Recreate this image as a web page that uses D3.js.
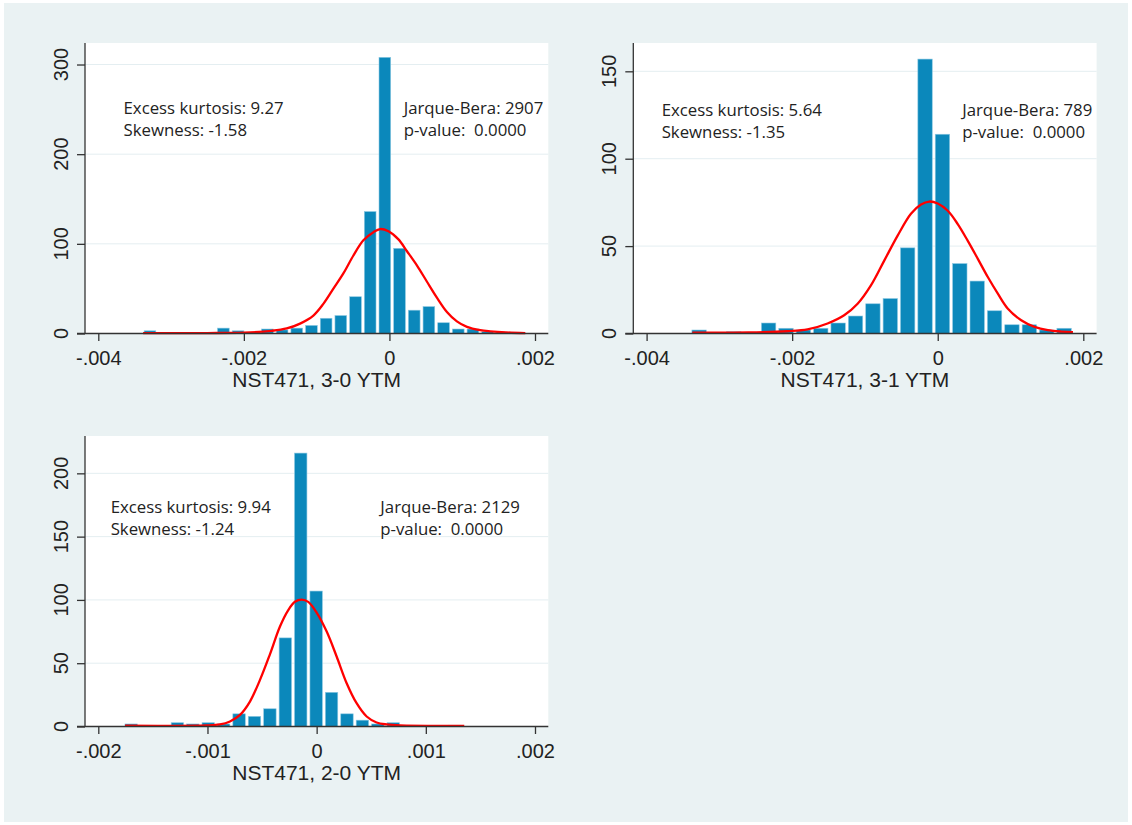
<!DOCTYPE html>
<html lang="en">
<head>
<meta charset="utf-8">
<title>NST471 YTM histograms</title>
<script src="https://cdn.jsdelivr.net/npm/d3@7"></script>
<style>
  body { margin: 0; background: #fff; }
  text { white-space: pre; }
</style>
</head>
<body>
<script>
// histogram counts left to right
var counts30 = [3,0,0,0,0,6,3,1,5,4,6,9,17,20,41,136,308,95,26,30,12,5,5,2,1,1];
var counts31 = [2,0,1,0,6,3,2,3,6,10,17,20,49,157,114,40,30,13,5,5,2,3];
var counts20 = [2,0,0,3,2,3,2,10,8,14,70,216,107,27,10,5,2,3,0,0,0,1];

// first bin edge, bin width
var bins30 = [-0.003391, 0.0002017];
var bins31 = [-0.003398, 0.0002388];
var bins20 = [-0.0017696, 0.0001412];

// normal density overlay (x in 1e-3 units)
var curveX30 = [-3.384,-2.5,-2.0,-1.618,-1.411,-1.228,-1.045,-0.908,-0.770,-0.633,-0.495,-0.358,-0.220,-0.128,-0.014,0.124,0.239,0.377,0.514,0.652,0.790,0.927,1.065,1.248,1.385,1.6,1.867];
var curveY30 = [0.5,0.5,1.0,3,5.6,11,20,33,50,67,87,104,113,116.5,114,105,92,76,58,40,24,13.5,7.4,3.7,2.4,1.2,0.5];
var curveX31 = [-3.372,-2.6,-2.065,-1.789,-1.514,-1.286,-1.101,-0.918,-0.735,-0.551,-0.368,-0.230,-0.116,0,0.138,0.275,0.413,0.551,0.688,0.826,0.964,1.147,1.330,1.514,1.697,1.858];
var curveY31 = [0.5,0.6,1.3,2.3,5.7,10.4,17,27.5,41.7,56,68.5,73.8,75.5,74.4,70.2,62.6,53,42.7,32.3,22.8,14.2,7.6,3.8,1.9,1.1,0.8];
var curveX20 = [-1.755,-1.007,-0.886,-0.794,-0.702,-0.611,-0.519,-0.428,-0.336,-0.260,-0.199,-0.137,-0.077,0,0.092,0.183,0.275,0.366,0.458,0.549,0.641,0.763,1.352];
var curveY20 = [0.6,0.8,1.6,4,9.2,19.7,36.8,57,79,92,98.5,100.3,98.5,90,75,55.3,34.2,18.4,7.9,3.2,1.6,0.8,0.5];

// axes
var xTicksWide = [-0.004, -0.002, 0, 0.002];
var xTicksNarrow = [-0.002, -0.001, 0, 0.001, 0.002];
var yTicks30 = [0, 100, 200, 300];
var yTicks31 = [0, 50, 100, 150];
var yTicks20 = [0, 50, 100, 150, 200];
var yMax = [324, 166.2, 229.5];
var titles = ["NST471, 3-0 YTM", "NST471, 3-1 YTM", "NST471, 2-0 YTM"];

// test statistics
var notesLeft30 = ["Excess kurtosis: 9.27", "Skewness: -1.58"];
var notesRight30 = ["Jarque-Bera: 2907", "p-value:  0.0000"];
var notesLeft31 = ["Excess kurtosis: 5.64", "Skewness: -1.35"];
var notesRight31 = ["Jarque-Bera: 789", "p-value:  0.0000"];
var notesLeft20 = ["Excess kurtosis: 9.94", "Skewness: -1.24"];
var notesRight20 = ["Jarque-Bera: 2129", "p-value:  0.0000"];
// where the notes sit, in data units [x left note, x right note, y]
var notesAt30 = [-0.003653, 0.000195, 245];
var notesAt31 = [-0.003793, 0.000336, 124.7];
var notesAt20 = [-0.001887, 0.000583, 168.7];

var plotW = 463.3, plotH = 290.5, xPad = 13.3;
var axisFont = "'Liberation Sans', Arial, sans-serif";
var noteFont = "'Open Sans', 'Noto Sans', sans-serif";

var svg = d3.select("body").append("svg")
	.attr("width", 1132)
	.attr("height", 825);

svg.append("rect")
	.attr("x", 4).attr("y", 3)
	.attr("width", 1124).attr("height", 819)
	.attr("fill", "#eaf2f3");

function fmtX(d) {
	if (d === 0) return "0";
	return (d < 0 ? "-" : "") + Math.abs(d).toFixed(3).replace(/^0/, "");
}

function drawPanel(p) {
	var g = svg.append("g").attr("transform", "translate(" + p.left + "," + p.top + ")");

	var x = d3.scaleLinear().domain(d3.extent(p.xTicks)).range([xPad, plotW - xPad]);
	var y = d3.scaleLinear().domain([0, p.yMax]).range([plotH, 0]);

	g.append("rect")
		.attr("width", plotW)
		.attr("height", plotH)
		.attr("fill", "#fff");

	//gridlines
	g.selectAll(".grid")
		.data(p.yTicks.filter(function(d) { return d > 0; }))
		.enter().append("line")
		.attr("x1", 0).attr("x2", plotW)
		.attr("y1", function(d) { return y(d); })
		.attr("y2", function(d) { return y(d); })
		.attr("stroke", "#e4eef1")
		.attr("stroke-width", 1);

	//bars
	var bins = p.counts.map(function(c, i) {
		return { x0: p.bins[0] + i * p.bins[1], x1: p.bins[0] + (i + 1) * p.bins[1], n: c };
	}).filter(function(d) { return d.n > 0; });

	g.selectAll(".bar")
		.data(bins)
		.enter().append("rect")
		.attr("x", function(d) { return x(d.x0) + 1.5; })
		.attr("width", function(d) { return x(d.x1) - x(d.x0) - 3; })
		.attr("y", function(d) { return y(d.n); })
		.attr("height", function(d) { return y(0) - y(d.n); })
		.attr("fill", "#0b88bb")
		.attr("stroke", "#8cc8e2")
		.attr("stroke-width", 0.6);

	//normal curve
	var pts = p.curveX.map(function(v, i) { return [v / 1000, p.curveY[i]]; });
	var line = d3.line()
		.x(function(d) { return x(d[0]); })
		.y(function(d) { return y(d[1]); })
		.curve(d3.curveCatmullRom.alpha(0.5));
	g.append("path")
		.datum(pts)
		.attr("d", line)
		.attr("fill", "none")
		.attr("stroke", "#ff0000")
		.attr("stroke-width", 2.3);

	//x axis
	var xAxis = d3.axisBottom(x)
		.tickValues(p.xTicks)
		.tickSize(7.5)
		.tickPadding(10)
		.tickFormat(fmtX);
	var xg = g.append("g")
		.attr("transform", "translate(0," + plotH + ")")
		.call(xAxis);
	xg.select(".domain").remove();
	xg.selectAll("line").attr("stroke", "#333").attr("stroke-width", 1.3);
	xg.selectAll("text")
		.attr("font-family", axisFont)
		.attr("font-size", 20)
		.attr("fill", "#222");

	//y axis
	var yAxis = d3.axisLeft(y)
		.tickValues(p.yTicks)
		.tickSize(8)
		.tickFormat("");
	var yg = g.append("g").call(yAxis);
	yg.select(".domain").remove();
	yg.selectAll("line").attr("stroke", "#333").attr("stroke-width", 1.3);

	g.selectAll(".ylab")
		.data(p.yTicks)
		.enter().append("text")
		.attr("transform", function(d) { return "translate(-17.5," + y(d) + ") rotate(-90)"; })
		.attr("text-anchor", "middle")
		.attr("font-family", axisFont)
		.attr("font-size", 20)
		.attr("fill", "#222")
		.text(function(d) { return d; });

	g.append("line")
		.attr("x1", 0).attr("x2", 0)
		.attr("y1", 0).attr("y2", plotH)
		.attr("stroke", "#333").attr("stroke-width", 1.3);
	g.append("line")
		.attr("x1", -8).attr("x2", plotW)
		.attr("y1", plotH).attr("y2", plotH)
		.attr("stroke", "#333").attr("stroke-width", 1.3);

	g.append("text")
		.attr("x", plotW / 2)
		.attr("y", plotH + 53)
		.attr("text-anchor", "middle")
		.attr("font-family", axisFont)
		.attr("font-size", 21)
		.attr("fill", "#222")
		.text(p.title);

	//notes
	[[p.notesLeft, p.notesAt[0]], [p.notesRight, p.notesAt[1]]].forEach(function(n) {
		var t = g.append("text")
			.attr("x", x(n[1]))
			.attr("y", y(p.notesAt[2]))
			.attr("font-family", noteFont)
			.attr("font-size", 16.8)
			.attr("fill", "#222");
		n[0].forEach(function(s, i) {
			t.append("tspan")
				.attr("x", x(n[1]))
				.attr("dy", i === 0 ? 0 : 22.5)
				.text(s);
		});
	});
}

drawPanel({ left: 85, top: 43, counts: counts30, bins: bins30, curveX: curveX30, curveY: curveY30,
	xTicks: xTicksWide, yTicks: yTicks30, yMax: yMax[0], title: titles[0],
	notesLeft: notesLeft30, notesRight: notesRight30, notesAt: notesAt30 });
drawPanel({ left: 633.3, top: 43, counts: counts31, bins: bins31, curveX: curveX31, curveY: curveY31,
	xTicks: xTicksWide, yTicks: yTicks31, yMax: yMax[1], title: titles[1],
	notesLeft: notesLeft31, notesRight: notesRight31, notesAt: notesAt31 });
drawPanel({ left: 85, top: 436, counts: counts20, bins: bins20, curveX: curveX20, curveY: curveY20,
	xTicks: xTicksNarrow, yTicks: yTicks20, yMax: yMax[2], title: titles[2],
	notesLeft: notesLeft20, notesRight: notesRight20, notesAt: notesAt20 });
</script>
</body>
</html>
